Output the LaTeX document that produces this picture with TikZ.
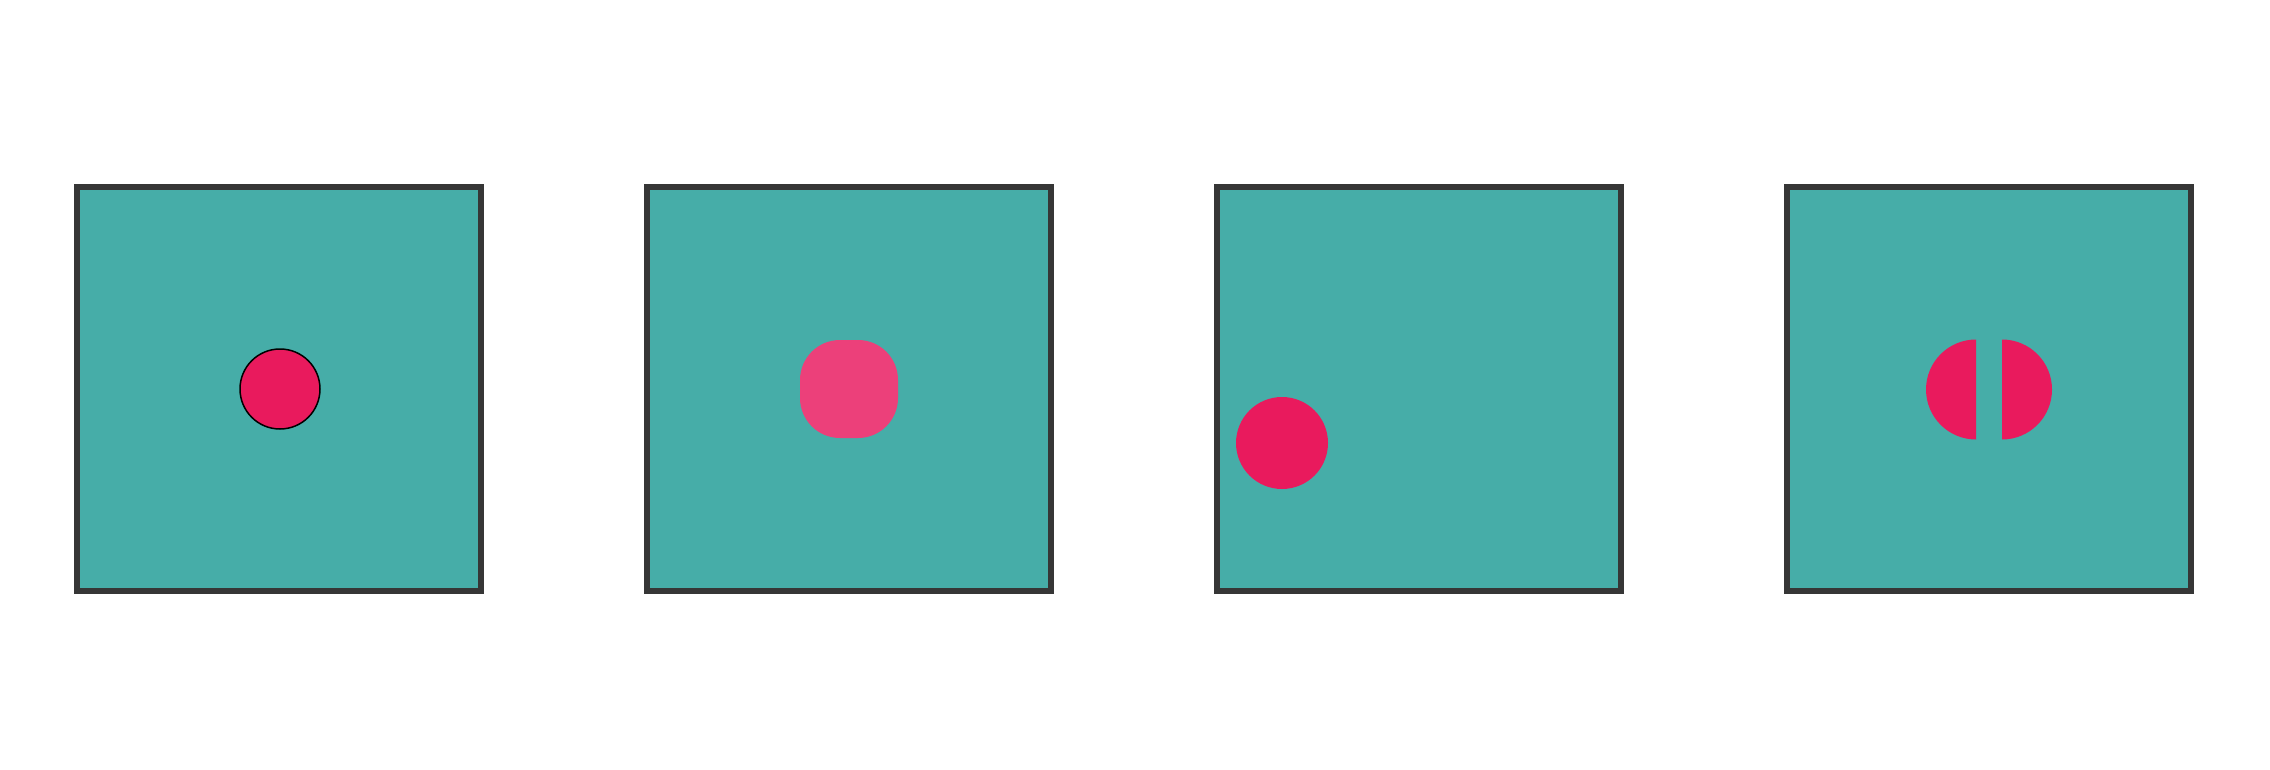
\documentclass[tikz,border=0pt]{standalone}
\definecolor{teal}{HTML}{46ADA8}
\definecolor{pinkA}{HTML}{E91A5D}
\definecolor{pinkB}{HTML}{EC407A}
\definecolor{frame}{HTML}{363636}
\begin{document}
\begin{tikzpicture}[x=1pt,y=-1pt,
  panel/.style={draw=frame,fill=teal,line width=6pt,minimum size=404pt,inner sep=0pt,rectangle},
  dot/.style={circle,fill=pinkA,inner sep=0pt}]
\useasboundingbox (0,0) rectangle (2270,770);
\node[panel] (p1) at (279,389) {};
\node[panel] (p2) at (849,389) {};
\node[panel] (p3) at (1419,389) {};
\node[panel] (p4) at (1989,389) {};
\node[dot,draw=black,line width=1.5pt,minimum size=80pt] (c1) at (280,389) {};
\node[rectangle,rounded corners=40pt,fill=pinkB,minimum size=98pt,inner sep=0pt] (r2) at (849,389) {};
\node[dot,minimum size=92pt] (c3) at (1282,443) {};
\coordinate (hl) at (1976,389.5);
\coordinate (hr) at (2002,389.5);
\fill[pinkA] ([yshift=50pt]hl) arc[start angle=90,end angle=270,radius=50pt] -- cycle;
\fill[pinkA] ([yshift=50pt]hr) arc[start angle=90,end angle=-90,radius=50pt] -- cycle;
\end{tikzpicture}
\end{document}
